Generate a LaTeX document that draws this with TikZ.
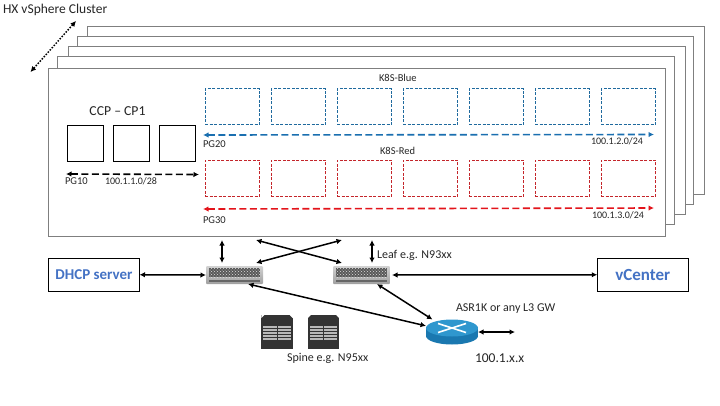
\documentclass[tikz,border=0pt]{standalone}
\usepackage{fontspec}
\setmainfont{Carlito}
\usepackage{tikz}
\usetikzlibrary{positioning,arrows.meta,calc,patterns}
\usepackage{xcolor}
\definecolor{stackgray}{HTML}{7F7F7F}
\definecolor{bluebox}{HTML}{1F6A9E}
\definecolor{bluearrow}{HTML}{1A6FB0}
\definecolor{redbox}{HTML}{C4252B}
\definecolor{redarrow}{HTML}{E3141B}
\definecolor{titleblue}{HTML}{4472C4}
\definecolor{routerblue}{HTML}{1A78B0}
\definecolor{routertop}{HTML}{2F97CE}

\begin{document}
\begin{tikzpicture}[
  x=1pt, y=-1pt, node distance=9.5pt, >={Latex[length=5.5pt,width=5.5pt]},
  every node/.style={inner sep=0pt, outer sep=0pt},
  stacked/.style={draw=stackgray, fill=white, line width=0.9pt},
  cpbox/.style={draw=black, line width=0.8pt, minimum width=36.5pt, minimum height=36pt},
  vmblue/.style={draw=bluebox, dash pattern=on 3pt off 1.5pt, line width=0.7pt, minimum width=54.5pt, minimum height=36pt},
  vmred/.style={draw=redbox, dash pattern=on 3pt off 1.5pt, line width=0.7pt, minimum width=54.5pt, minimum height=36pt},
  svcbox/.style={draw=black, line width=0.9pt, minimum width=91pt, minimum height=32.5pt, text=titleblue},
  lbl/.style={anchor=west, font=\fontsize{10.5}{12}\selectfont, text=black!85},
  numlbl/.style={anchor=west, font=\fontsize{10}{12}\selectfont, text=black!85},
  midlbl/.style={anchor=west, font=\fontsize{12}{14}\selectfont, text=black!85},
  biglbl/.style={anchor=west, font=\fontsize{13.5}{15}\selectfont, text=black!85},
  leafsw/.style={minimum width=57pt, minimum height=18pt, top color=gray!35, bottom color=gray!75, rounded corners=1pt},
  chassis/.style={minimum width=31.5pt, minimum height=34pt, fill=black!80},
  link/.style={<->, line width=1.5pt},
  netdash/.style={<->, line width=1.6pt, dash pattern=on 7pt off 3.5pt},
]
\useasboundingbox (0,0) rectangle (720,405);

% cluster stack
\draw[stacked] (87.5,26) rectangle (704.5,194);
\draw[stacked] (77,36.5) rectangle (693.5,204);
\draw[stacked] (68,46) rectangle (685,214);
\draw[stacked] (57,56) rectangle (674,224);
\draw[stacked] (48.5,68.5) rectangle (665.5,236.5);

\node[biglbl] (hx) at (3,10) {HX vSphere Cluster};
\coordinate (hxa) at (30.5,72);
\coordinate (hxb) at (76,21);
\draw[<->, line width=1.5pt, dash pattern=on 1.5pt off 1.5pt] (hxa) -- (hxb);

% control plane
\node[cpbox] (cpa) at (85.5,143.5) {};
\node[cpbox, right=of cpa] (cpb) {};
\node[cpbox, right=of cpb] (cpc) {};
\node[font=\fontsize{13.7}{15}\selectfont, text=black!85] (ccp) at (117.5,111) {CCP -- CP1};
\coordinate (pgal) at (66,174);
\coordinate (pgar) at (199,174.5);
\draw[netdash] (pgal) -- (pgar);
\node[lbl] (pga) at (65,181.5) {PG10};
\node[numlbl] (pgan) at (105,181) {100.1.1.0/28};

% worker nodes
\foreach \i in {0,...,6} {
  \node[vmblue] (blue\i) at (232.25+66*\i,106.5) {};
  \node[vmred] (red\i) at (232.25+66*\i,178.25) {};
}
\node[lbl] (kblue) at (379,77.5) {K8S-Blue};
\node[lbl] (kred) at (380,150.5) {K8S-Red};
\coordinate (pgbl) at (203,135);
\coordinate (pgbr) at (654,134.5);
\coordinate (pgcl) at (203,209);
\coordinate (pgcr) at (654,208);
\draw[netdash, draw=bluearrow] (pgbl) -- (pgbr);
\draw[netdash, draw=redarrow] (pgcl) -- (pgcr);
\node[lbl] (pgb) at (203,144.5) {PG20};
\node[lbl] (pgc) at (203,220.5) {PG30};
\node[numlbl] (pgbn) at (591,141) {100.1.2.0/24};
\node[numlbl] (pgcn) at (592,215) {100.1.3.0/24};

% leaf switches
\foreach \n/\x in {leafa/234.5,leafb/361.5} {
  \node[leafsw] (\n) at (\x,275) {};
  \fill[gray!70!black] ($(\n.north west)+(3,2)$) rectangle ($(\n.east)+(-3,2)$);
  \fill[pattern=crosshatch dots, pattern color=gray!25] ($(\n.north west)+(3,2)$) rectangle ($(\n.east)+(-3,2)$);
  \fill[black!60] ($(\n.south west)+(3,-4)$) rectangle ($(\n.south east)+(-3,-2)$);
}
\node[midlbl] (leaflbl) at (377,255) {Leaf e.g. N93xx};

% spine switches
\foreach \n/\x in {spa/277,spb/323.5} {
  \node[chassis] (\n) at (\x,332) {};
  \fill[white] (\n.north west) -- ++(3,0) -- ++(-3,3) -- cycle;
  \fill[white] (\n.north east) -- ++(-3,0) -- ++(3,3) -- cycle;
  \foreach \r in {0,...,4}
    \fill[gray!55] ($(\n.north west)+(2,11+3*\r)$) rectangle ($(\n.north east)+(-2,13+3*\r)$);
  \fill[black!80] ($(\n.north)+(-0.5,11)$) rectangle ($(\n.north)+(0.5,26)$);
}
\node[midlbl] (spinelbl) at (287,358) {Spine e.g. N95xx};

% gateway
\node[minimum width=52pt, minimum height=25pt] (rtr) at (452,332) {};
\fill[routerblue] (452,336) ellipse[x radius=26, y radius=8.5];
\fill[routerblue] (426,328) rectangle (478,336);
\fill[routertop] (452,328) ellipse[x radius=26, y radius=8.5];
\draw[white, line width=1.6pt] (438,323.5) -- (466,332.5) (438,332.5) -- (466,323.5);
\node[midlbl] (rtrlbl) at (456,309) {ASR1K or any L3 GW};
\node[biglbl] (rtrnet) at (475,358) {100.1.x.x};
\coordinate (rtrout) at (515,332);

% services
\node[svcbox, font=\fontsize{15}{17}\selectfont\bfseries] (dhcp) at (94,274.75) {DHCP server};
\node[svcbox, font=\fontsize{17}{19}\selectfont\bfseries] (vc) at (642.75,274.75) {vCenter};

% links
\coordinate (upa) at (222,240);
\coordinate (upb) at (372,240);
\coordinate (xa) at (256,240);
\coordinate (xb) at (342,240);
\coordinate (xc) at (256,263);
\coordinate (xd) at (342,263);
\draw[link] (upa) -- ([xshift=-12.5pt,yshift=3pt]leafa.north);
\draw[link] (upb) -- ([xshift=10.5pt,yshift=3pt]leafb.north);
\draw[link] (xa) -- (xd);
\draw[link] (xb) -- (xc);
\draw[link] (dhcp.east) -- (leafa.west);
\draw[link] ([xshift=2pt]leafb.east) -- (vc.west);
\draw[link] ([xshift=13.5pt]leafa.south) -- ([xshift=-17pt,yshift=9pt]rtr);
\draw[link] ([xshift=15.5pt]leafb.south) -- ([yshift=13pt]rtr);
\draw[link] (rtr.east) -- (rtrout);
\end{tikzpicture}
\end{document}
